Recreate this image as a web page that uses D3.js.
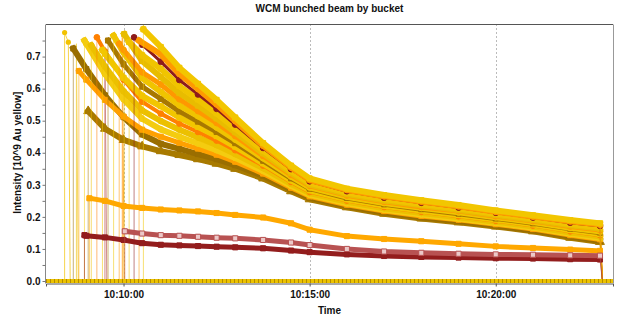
<!DOCTYPE html>
<html><head><meta charset="utf-8">
<script src="https://cdn.jsdelivr.net/npm/d3@7"></script>
<style>
body{margin:0;background:#fff;}
svg{display:block;font-family:"Liberation Sans",Arial,Helvetica,sans-serif;}
</style></head><body>
<svg id="chart" width="621" height="322"></svg>
<script>
// Sample times shared by every bucket (values aligned to these)
const sampleTimes = ["10:08:30","10:09:00","10:09:30","10:10:00","10:10:30","10:11:00","10:11:30","10:12:00","10:12:30","10:13:00","10:13:45","10:14:30","10:15:00","10:16:00","10:17:00","10:18:00","10:19:00","10:20:00","10:21:00","10:22:00","10:22:48"];
const dumpTime = "10:22:52";
const axisStart = "10:07:55", axisEnd = "10:23:09";
const timeTicks = ["10:10:00","10:15:00","10:20:00"];
const intensityTicks = [0,0.1,0.2,0.3,0.4,0.5,0.6,0.7];
const intensityMinor = [0.05,0.15,0.25,0.35,0.45,0.55,0.65,0.75];

// Bucket intensities [10^9 Au], null before injection
const bucket01 = [null,null,null,null,null,0.73,0.665,0.615,0.565,0.51,0.43,0.36,0.32,0.288,0.268,0.252,0.237,0.22,0.205,0.19,0.18];
const bucket02 = [null,null,null,null,null,0.707,0.646,0.599,0.551,0.499,0.422,0.354,0.315,0.284,0.264,0.248,0.233,0.216,0.201,0.186,0.176];
const bucket03 = [null,null,null,null,0.737,0.684,0.627,0.582,0.537,0.488,0.415,0.349,0.311,0.28,0.26,0.244,0.229,0.213,0.198,0.182,0.172];
const bucket04 = [null,null,null,null,0.704,0.662,0.608,0.566,0.523,0.476,0.407,0.343,0.306,0.276,0.256,0.24,0.226,0.21,0.195,0.178,0.168];
const bucket05 = [null,null,null,null,0.686,0.636,0.586,0.547,0.507,0.464,0.398,0.337,0.301,0.271,0.251,0.236,0.221,0.206,0.19,0.174,0.163];
const bucket06 = [null,null,null,0.721,0.651,0.613,0.567,0.53,0.493,0.452,0.39,0.331,0.297,0.267,0.247,0.231,0.218,0.202,0.187,0.17,0.159];
const bucket07 = [null,null,null,0.713,0.633,0.59,0.548,0.514,0.479,0.441,0.383,0.326,0.292,0.263,0.243,0.228,0.214,0.199,0.184,0.166,0.155];
const bucket08 = [null,null,null,0.676,0.606,0.568,0.529,0.497,0.465,0.43,0.375,0.32,0.288,0.259,0.239,0.224,0.21,0.195,0.18,0.163,0.151];
const bucket09 = [null,null,0.709,0.634,0.577,0.545,0.51,0.481,0.452,0.419,0.367,0.314,0.283,0.255,0.235,0.22,0.206,0.192,0.177,0.159,0.147];
const bucket10 = [null,null,0.716,0.628,0.559,0.522,0.491,0.465,0.438,0.408,0.36,0.309,0.278,0.251,0.231,0.216,0.202,0.188,0.173,0.155,0.143];
const bucket11 = [null,null,0.669,0.592,0.532,0.499,0.472,0.448,0.424,0.396,0.352,0.303,0.274,0.247,0.227,0.212,0.199,0.185,0.17,0.151,0.139];
const bucket12 = [null,0.74,0.646,0.567,0.506,0.473,0.45,0.429,0.408,0.384,0.343,0.297,0.269,0.242,0.222,0.207,0.194,0.181,0.166,0.147,0.134];
const bucket13 = [null,0.628,0.565,0.513,0.472,0.45,0.431,0.413,0.394,0.372,0.335,0.291,0.264,0.238,0.218,0.203,0.191,0.177,0.162,0.143,0.13];
const bucket14 = [null,0.661,0.579,0.511,0.457,0.428,0.412,0.396,0.38,0.361,0.328,0.286,0.26,0.234,0.214,0.199,0.187,0.173,0.158,0.139,0.126];
const bucket15 = [null,null,0.475,0.44,0.42,0.405,0.393,0.38,0.366,0.35,0.32,0.28,0.255,0.23,0.21,0.195,0.183,0.17,0.155,0.135,0.122];
const bucket16 = [null,null,0.25,0.234,0.228,0.223,0.22,0.217,0.212,0.206,0.198,0.18,0.16,0.14,0.131,0.124,0.116,0.108,0.103,0.098,0.094];
const bucket17 = [null,0.141,0.136,0.128,0.118,0.113,0.111,0.109,0.107,0.105,0.102,0.095,0.09,0.083,0.078,0.075,0.073,0.071,0.07,0.068,0.067];
const bucket18 = [null,null,null,null,0.148,0.143,0.141,0.138,0.135,0.133,0.128,0.12,0.112,0.1,0.092,0.088,0.085,0.083,0.082,0.08,0.079];

// Injection time and first reading of each bucket
const injectTimes = ["10:10:32","10:10:25","10:10:17","10:10:09","10:10:01","10:09:53","10:09:44","10:09:35","10:09:26","10:09:17","10:09:08","10:08:57","10:08:48","10:08:39","10:09:03","10:09:05","10:08:57","10:10:02"];
const injectValues = [0.785,0.75,0.76,0.745,0.77,0.74,0.765,0.75,0.72,0.76,0.735,0.75,0.655,0.725,0.53,0.258,0.143,0.155];

// Short-lived early fills that were dumped right away
const shotTimes = ["10:08:25","10:08:31"];
const shotValues = [0.775,0.745];
const shotDump = "10:08:34";
const spikeTimes = ["10:08:44","10:09:30","10:09:58"];
const spikeValues = [0.74,0.73,0.76];

const bucketSeries = [bucket01,bucket02,bucket03,bucket04,bucket05,bucket06,bucket07,bucket08,bucket09,bucket10,bucket11,bucket12,bucket13,bucket14,bucket15,bucket16,bucket17,bucket18];
const bucketColors = ["#f2c600","#ff9a00","#8e1b1b","#f0c400","#e8bc00","#ff9800","#f0c400","#a87800","#f2c600","#ff8000","#ecc000","#f4cc10","#ffa000","#9a6e00","#a87a00","#ffa800","#931d1d","#b85252"];
const bucketMarkers = ["square","circle","circle","square","square","circle","circle","square","square","circle","circle","circle","square","square","triangle","square","square","square"];
const bucketOpen = [false,false,false,false,false,false,false,false,false,false,false,false,false,false,false,false,false,true];
const bucketWidths = [6,6,3,6,6,5,6,5,6,4,6,6,5,6,6,5,5,5];
// bottom bucket first so the newest fills sit on top
const drawOrder = [14,13,12,11,10,9,8,7,6,5,4,3,2,1,0,15,16,17];

const parse = d3.timeParse("%H:%M:%S");
const svg = d3.select("#chart");
const plotLeft = 46, plotRight = 613, plotTop = 24.5, zeroY = 281, plotBottom = 283.5;

const x = d3.scaleTime().domain([parse(axisStart), parse(axisEnd)]).range([plotLeft, plotRight]);
const y = d3.scaleLinear().domain([0, 0.8]).range([zeroY, plotTop]);

// dotted time grid
svg.append("g").selectAll("line").data(timeTicks).join("line")
  .attr("x1", d => Math.round(x(parse(d))) + 0.5).attr("x2", d => Math.round(x(parse(d))) + 0.5)
  .attr("y1", plotTop).attr("y2", plotBottom)
  .attr("stroke", "#777").attr("stroke-width", 1).attr("stroke-dasharray", "1,3");

const symbolType = {circle: d3.symbolCircle, square: d3.symbolSquare, triangle: d3.symbolTriangle};
const line = d3.line().x(d => x(d[0])).y(d => y(d[1]));

const data = svg.append("g");

function drawBucket(i) {
  const vals = bucketSeries[i];
  const color = bucketColors[i];
  const t0 = parse(injectTimes[i]);
  const pts = [[t0, injectValues[i]]];
  vals.forEach((v, k) => { if (v !== null) pts.push([parse(sampleTimes[k]), v]); });
  const g = data.append("g");
  // thin trace including jump from zero and dump back to zero
  const trace = [[t0, 0]].concat(pts, [[parse(dumpTime), 0]]);
  g.append("path").attr("d", line(trace)).attr("fill", "none")
    .attr("stroke", color).attr("stroke-width", 1).attr("stroke-opacity", 0.55);
  // dense marker band
  g.append("path").attr("d", line(pts)).attr("fill", "none")
    .attr("stroke", color).attr("stroke-width", bucketWidths[i]).attr("stroke-linejoin", "round")
    .attr("stroke-linecap", "square");
  const sym = d3.symbol().type(symbolType[bucketMarkers[i]]).size(bucketMarkers[i] === "triangle" ? 34 : 26);
  g.selectAll("path.m").data(pts).join("path").attr("class", "m")
    .attr("d", sym)
    .attr("transform", d => `translate(${x(d[0])},${y(d[1])})`)
    .attr("fill", bucketOpen[i] ? "#ecc8c8" : color)
    .attr("stroke", color).attr("stroke-width", 1);
}

// early dumped fills
const shotPts = shotTimes.map((t, k) => [parse(t), shotValues[k]]);
data.append("path").attr("d", line([[shotPts[0][0], 0]].concat(shotPts, [[parse(shotDump), 0]])))
  .attr("fill", "none").attr("stroke", "#f2c200").attr("stroke-width", 1).attr("stroke-opacity", 0.7);
data.selectAll("circle.shot").data(shotPts).join("circle").attr("class", "shot")
  .attr("cx", d => x(d[0])).attr("cy", d => y(d[1])).attr("r", 2.6).attr("fill", "#f2c200");
spikeTimes.forEach((t, k) => {
  const tt = parse(t);
  data.append("path").attr("d", line([[tt, 0], [tt, spikeValues[k]], [d3.timeSecond.offset(tt, 3), 0]]))
    .attr("fill", "none").attr("stroke", ["#f5d860", "#d08a8a", "#ffb040"][k % 3]).attr("stroke-width", 1);
});

drawOrder.forEach(drawBucket);

// empty buckets sitting at zero along the whole span
const zeroLine = [[parse(axisStart), 0], [parse(axisEnd), 0]];
data.append("path").attr("d", line(zeroLine)).attr("stroke", "#ecc200").attr("stroke-width", 4).attr("fill", "none");
data.append("path").attr("d", line(zeroLine)).attr("stroke", "#b38b00").attr("stroke-width", 4)
  .attr("stroke-dasharray", "1,3").attr("fill", "none");

// frame
svg.append("line").attr("x1", plotLeft).attr("x2", plotRight).attr("y1", plotTop).attr("y2", plotTop).attr("stroke", "#555");
svg.append("line").attr("x1", plotRight + 0.5).attr("x2", plotRight + 0.5).attr("y1", plotTop).attr("y2", plotBottom).attr("stroke", "#999");

// axes
const xAxis = d3.axisBottom(x).tickValues(timeTicks.map(parse)).tickFormat(d3.timeFormat("%H:%M:%S")).tickSize(3).tickPadding(4);
const gx = svg.append("g").attr("transform", `translate(0,${plotBottom})`).call(xAxis);
gx.select(".domain").attr("stroke", "#555");
gx.selectAll(".tick line").attr("stroke", "#555");
gx.selectAll("text").attr("font-size", 10).attr("font-weight", "bold").attr("fill", "#111").attr("font-family", "Liberation Sans, Arial, sans-serif");

const yAxis = d3.axisLeft(y).tickValues(intensityTicks).tickFormat(d3.format(".1f")).tickSize(3).tickPadding(2).tickSizeOuter(0);
const gy = svg.append("g").attr("transform", `translate(${plotLeft - 0.5},0)`).call(yAxis);
gy.select(".domain").attr("stroke", "#888").attr("d", `M0,${plotTop}V${plotBottom}`);
gy.selectAll(".tick line").attr("stroke", "#777");
gy.selectAll("text").attr("font-size", 10).attr("font-weight", "bold").attr("fill", "#111").attr("font-family", "Liberation Sans, Arial, sans-serif");
const gyMinor = svg.append("g").attr("transform", `translate(${plotLeft - 0.5},0)`)
  .call(d3.axisLeft(y).tickValues(intensityMinor).tickFormat("").tickSize(3));
gyMinor.select(".domain").remove();
gyMinor.selectAll(".tick line").attr("stroke", "#777");

// titles
svg.append("text").attr("x", (plotLeft + plotRight) / 2).attr("y", 12).attr("text-anchor", "middle")
  .attr("font-size", 10).attr("font-weight", "bold").attr("fill", "#111").text("WCM bunched beam by bucket");
svg.append("text").attr("x", (plotLeft + plotRight) / 2).attr("y", 314).attr("text-anchor", "middle")
  .attr("font-size", 10).attr("font-weight", "bold").attr("fill", "#111").text("Time");
svg.append("text").attr("transform", `translate(21,${(plotTop + zeroY) / 2}) rotate(-90)`).attr("text-anchor", "middle")
  .attr("font-size", 10).attr("font-weight", "bold").attr("fill", "#111").text("Intensity [10^9 Au yellow]");
</script>
</body></html>
